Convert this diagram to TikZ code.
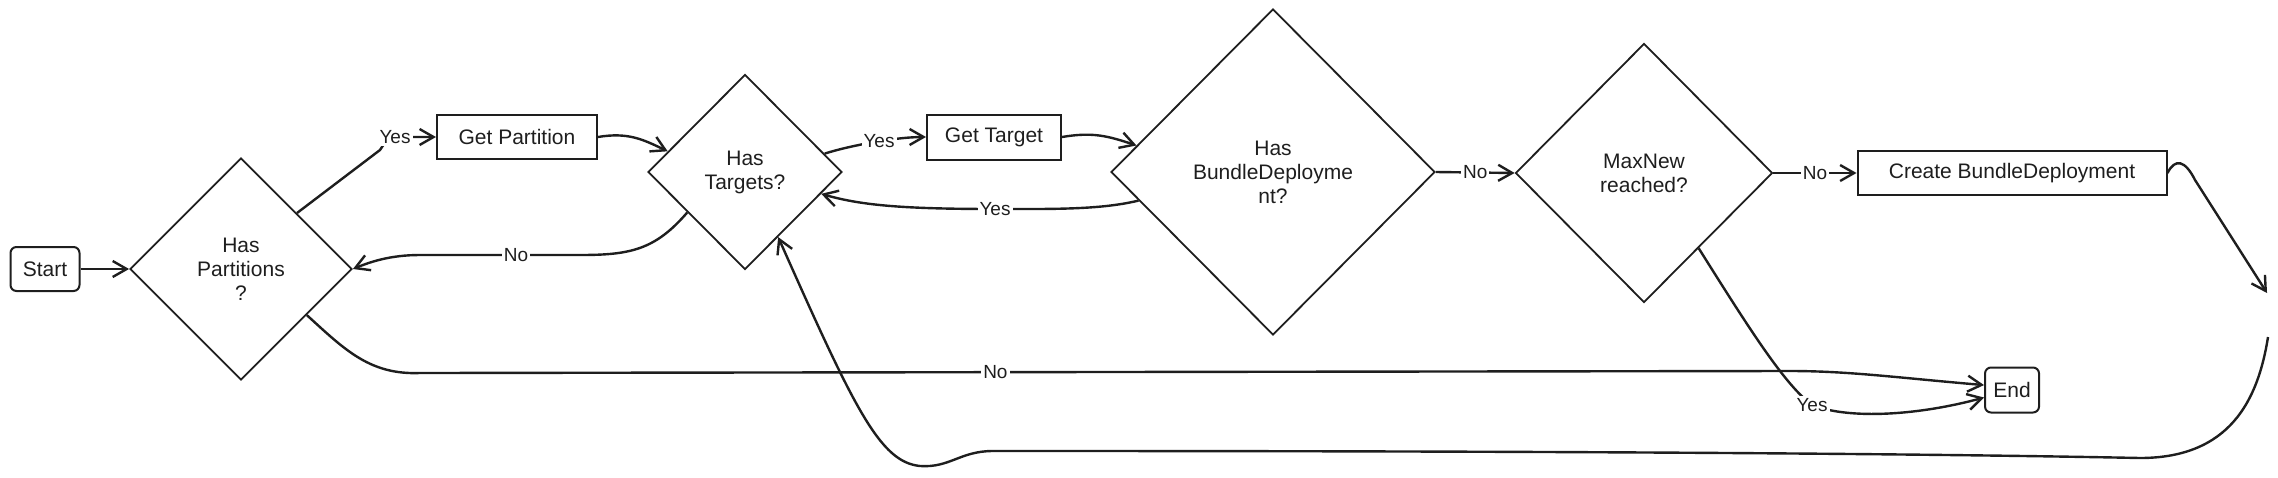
\documentclass[tikz,border=0pt]{standalone}
\usepackage[HTML]{xcolor}
\usepackage{fontspec}
\setmainfont{Liberation Sans}
\usepackage{tikz}
\usetikzlibrary{positioning, arrows.meta, shapes.geometric}
\definecolor{ink}{HTML}{1E1E1E}

\begin{document}
\begin{tikzpicture}[x=0.5pt, y=-0.5pt,
  every node/.style={font=\fontsize{10.5}{12}\selectfont, text=ink},
  decision/.style={draw=ink, diamond, line width=0.9pt, align=center, inner sep=0pt},
  process/.style={draw=ink, rectangle, line width=1pt, inner sep=2pt},
  terminal/.style={process, rounded corners=3pt},
  lbl/.style={fill=white, inner sep=1pt, font=\fontsize{9.5}{11}\selectfont},
  arr/.style={-{Straight Barb[length=7pt, width=8pt]}, draw=ink, line width=1.2pt}]
\useasboundingbox (0,0) rectangle (2278,477);

% steps
\node[terminal, minimum width=34.5pt, minimum height=22pt] (start) at (45,269) {Start};
\node[decision, minimum width=111pt, minimum height=111pt] (haspart) at (241,269) {Has\\Partitions\\?};
\node[process, minimum width=80pt, minimum height=22pt] (getpart) at (517,137) {Get Partition};
\node[decision, minimum width=97pt, minimum height=97.5pt] (hastgt) at (745,172) {Has\\Targets?};
\node[process, minimum width=67pt, minimum height=22.5pt] (gettgt) at (994,137) {Get Target};
\node[decision, minimum width=162pt, minimum height=163pt] (hasbd) at (1273,172) {Has\\BundleDeployme\\nt?};
\node[decision, minimum width=128.5pt, minimum height=129.5pt] (maxnew) at (1644,173) {MaxNew\\reached?};
\node[process, minimum width=154.5pt, minimum height=22pt] (create) at (2012,173) {Create BundleDeployment};
\node[terminal, minimum width=27pt, minimum height=22.5pt] (finish) at (2012,390) {End};
\coordinate (gapA) at (2267,293);
\coordinate (gapB) at (2268,337);

% arrows
\draw[arr] (start.east) -- (haspart.west);
\draw[arr] (haspart.north east) -- (380,150) .. controls (386,141) .. (395,137) node[lbl] {Yes} -- (getpart.west);
\draw[arr] (getpart.east) .. controls +(30,-5) and +(-25,-12) .. (hastgt.165);
\draw[arr] (hastgt.215) .. controls (655,250) and (630,255) .. (580,255) -- node[lbl, pos=0.4] {No} (420,255) .. controls (390,255) and (370,262) .. (haspart.east);
\draw[arr] (hastgt.13) .. controls +(25,-8) and +(-30,0) .. (gettgt.west) node[lbl, pos=0.55] {Yes};
\draw[arr] (gettgt.east) .. controls +(30,-5) and +(-30,-10) .. (hasbd.169);
\draw[arr] (hasbd.192) .. controls (1100,210) and (1050,209) .. (995,209) node[lbl] {Yes} .. controls (900,209) and (860,205) .. (hastgt.344);
\draw[arr] (hasbd.east) -- (maxnew.west) node[lbl, midway] {No};
\draw[arr] (maxnew.east) -- (create.west) node[lbl, midway] {No};
\draw[arr] (maxnew.306) .. controls (1750,330) and (1785,385) .. (1812,405) node[lbl] {Yes} .. controls (1850,420) and (1920,415) .. (finish.195);
\draw[arr] (haspart.325) .. controls (345,350) and (370,375) .. (420,373) -- node[lbl, pos=0.42] {No} (1790,371) .. controls (1850,371) and (1900,378) .. (finish.170);
\draw[arr] (create.east) .. controls (2175,158) and (2185,160) .. (2195,180) -- (gapA);
\draw[arr] (gapB) .. controls (2258,400) and (2230,458) .. (2140,458) .. controls (1800,451) and (1200,451) .. (993,451) .. controls (960,451) and (950,468) .. (920,466) .. controls (880,462) and (855,410) .. (hastgt.297);
\end{tikzpicture}
\end{document}
